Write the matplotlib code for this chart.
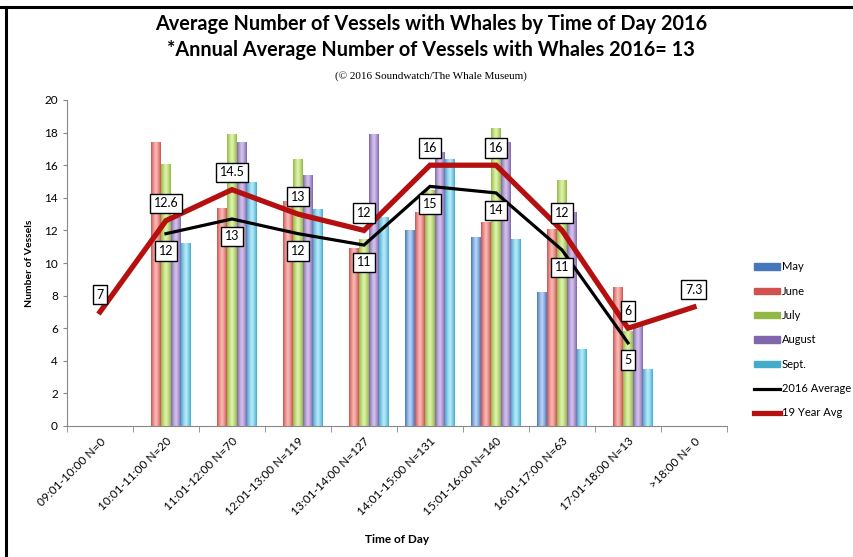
import numpy as np
import matplotlib
matplotlib.use("Agg")
import matplotlib.pyplot as plt
from matplotlib.patches import Rectangle, Patch
from matplotlib.lines import Line2D
from matplotlib.colors import LinearSegmentedColormap

# --- Dados ---
horarios = ["09:01-10:00 N=0", "10:01-11:00 N=20", "11:01-12:00 N=70",
            "12:01-13:00 N=119", "13:01-14:00 N=127", "14:01-15:00 N=131",
            "15:01-16:00 N=140", "16:01-17:00 N=63", "17:01-18:00 N=13",
            ">18:00 N= 0"]

meses = ["May", "June", "July", "August", "Sept."]
may = [0, 0, 0, 0, 0, 12.0, 11.6, 8.2, 0, 0]
june = [0, 17.4, 13.4, 13.8, 10.9, 13.1, 12.5, 12.1, 8.5, 0]
july = [0, 16.1, 17.9, 16.4, 11.5, 14.5, 18.3, 15.1, 5.8, 0]
august = [0, 12.8, 17.4, 15.4, 17.9, 16.8, 17.4, 13.1, 6.2, 0]
sept = [0, 11.2, 15.0, 13.3, 12.8, 16.4, 11.5, 4.7, 3.5, 0]

media_2016 = [np.nan, 11.8, 12.7, 11.8, 11.1, 14.7, 14.3, 10.8, 5.1, np.nan]
media_19anos = [7, 12.6, 14.5, 13, 12, 16, 16, 12, 6, 7.3]

# cores (borda escura, centro claro) para efeito de cilindro
cores = [("#4677bd", "#b8d3f4"),
         ("#d0524f", "#f8b8b4"),
         ("#93b845", "#def3aa"),
         ("#8165ad", "#d3c2ec"),
         ("#44abcd", "#b6eaf8")]

plt.rcParams['font.family'] = ['Lato', 'DejaVu Sans']

fig = plt.figure(figsize=(8.54, 5.57), dpi=100)
ax = fig.add_axes([67 / 854, 1 - 426 / 557, 660 / 854, 326 / 557])

x = np.arange(len(horarios))
largura = 0.15
series = [may, june, july, august, sept]

# --- Barras com gradiente horizontal ---
grad = np.abs(np.linspace(-1, 1, 64)) ** 1.3
grad = (1 - grad).reshape(1, -1)
for k, (vals, (escuro, claro)) in enumerate(zip(series, cores)):
    cmap = LinearSegmentedColormap.from_list(f"m{k}", [escuro, claro])
    for i, v in enumerate(vals):
        if v <= 0:
            continue
        x0 = i + (k - 2) * largura - largura / 2
        ret = Rectangle((x0, 0), largura, v, facecolor="none", edgecolor="none")
        ax.add_patch(ret)
        im = ax.imshow(grad, cmap=cmap, aspect="auto", vmin=0, vmax=1,
                       extent=[x0, x0 + largura, 0, v], zorder=2)
        im.set_clip_path(ret)

# --- Linhas ---
ax.plot(x, media_2016, color="black", lw=2.3, zorder=4, solid_joinstyle="miter")
ax.plot(x, media_19anos, color="#b50f0f", lw=3.8, zorder=5, solid_joinstyle="miter")

caixa = dict(boxstyle="square,pad=0.3", fc="white", ec="black", lw=1)
for i, v in enumerate(media_19anos):
    ax.annotate(f"{v:g}", (i, v), xytext=(0, 12.5), textcoords="offset points",
                ha="center", va="center", fontsize=9, bbox=caixa, zorder=6)
for i, v in enumerate(media_2016):
    if np.isnan(v):
        continue
    ax.annotate(f"{v:.0f}", (i, v), xytext=(0, -12.5), textcoords="offset points",
                ha="center", va="center", fontsize=9, bbox=caixa, zorder=6)

# --- Eixos ---
ax.set_xlim(-0.5, len(horarios) - 0.5)
ax.set_ylim(0, 20)
ax.set_yticks(range(0, 21, 2))
ax.set_xticks(x)
ax.set_xticklabels(horarios, rotation=45, ha="right", rotation_mode="anchor",
                   fontsize=8.5)
ax.set_xticks(np.arange(-0.5, len(horarios)), minor=True)
ax.tick_params(axis="x", which="major", length=0, pad=7)
ax.tick_params(axis="x", which="minor", length=4, color="#888888")
ax.tick_params(axis="y", length=3, color="#888888", labelsize=8.5)
for lado in ["top", "right"]:
    ax.spines[lado].set_visible(False)
for lado in ["left", "bottom"]:
    ax.spines[lado].set_color("#888888")

ax.set_ylabel("Number of Vessels", fontsize=7.5, fontweight="bold", labelpad=7)
ax.set_xlabel("Time of Day", fontsize=8.5, fontweight="bold", labelpad=12)

# --- Títulos ---
fig.text(0.505, 1 - 24 / 557, "Average Number of Vessels with Whales by Time of Day 2016",
         ha="center", va="center", fontsize=14.3, fontweight="bold")
fig.text(0.505, 1 - 50 / 557, "*Annual Average Number of Vessels with Whales 2016= 13",
         ha="center", va="center", fontsize=14.3, fontweight="bold")
fig.text(0.505, 1 - 76 / 557, "(© 2016 Soundwatch/The Whale Museum)",
         ha="center", va="center", fontsize=8, family="Liberation Serif")

# --- Legenda ---
handles = [Patch(facecolor=c[0], edgecolor=c[0]) for c in cores]
handles += [Line2D([], [], color="black", lw=2.3),
            Line2D([], [], color="#b50f0f", lw=3.8)]
rotulos = meses + ["2016 Average", "19 Year Avg"]
fig.legend(handles, rotulos, loc="upper left", bbox_to_anchor=(750 / 854, 1 - 257 / 557),
           frameon=False, fontsize=8, handlelength=2.3, handleheight=0.5,
           handletextpad=0.15, labelspacing=1.2, borderaxespad=0)

# moldura
fig.add_artist(Line2D([0, 1], [1 - 7 / 557] * 2, color="black", lw=2.2))
fig.add_artist(Line2D([6 / 854] * 2, [0, 1 - 7 / 557], color="black", lw=2.2))

fig.savefig("out.png", dpi=100)
